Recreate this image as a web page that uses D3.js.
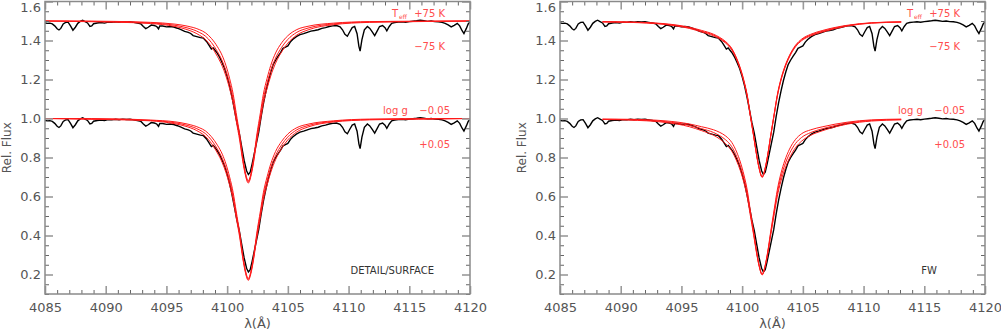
<!DOCTYPE html>
<html>
<head>
<meta charset="utf-8">
<script src="https://cdn.jsdelivr.net/npm/d3@7"></script>
<style>
  body { margin: 0; background: #fff; }
  svg { display: block; font-family: "DejaVu Sans", sans-serif; }
</style>
</head>
<body>
<div id="chart"></div>
<script>
// observed H-delta spectrum (normalised flux)
const obsWave = [4085.0, 4085.2, 4085.4, 4085.6, 4085.8, 4086.0, 4086.15, 4086.3, 4086.5, 4086.7, 4086.9, 4087.1, 4087.3, 4087.5, 4087.7, 4087.9, 4088.1, 4088.3, 4088.5, 4088.7, 4088.85, 4089.0, 4089.3, 4089.6, 4089.9, 4090.2, 4090.5, 4090.8, 4091.1, 4091.4, 4091.7, 4092.0, 4092.3, 4092.6, 4092.9, 4093.1, 4093.3, 4093.5, 4093.75, 4094.0, 4094.2, 4094.35, 4094.45, 4094.7, 4095.0, 4095.3, 4095.6, 4095.9, 4096.2, 4096.5, 4096.8, 4097.0, 4097.2, 4097.5, 4097.8, 4098.05, 4098.3, 4098.5, 4098.7, 4098.85, 4099.0, 4099.2, 4099.4, 4099.6, 4099.8, 4100.0, 4100.2, 4100.4, 4100.6, 4100.8, 4101.0, 4101.2, 4101.4, 4101.6, 4101.75, 4101.9, 4102.05, 4102.2, 4102.4, 4102.6, 4102.8, 4103.0, 4103.2, 4103.4, 4103.6, 4103.8, 4104.0, 4104.2, 4104.4, 4104.6, 4104.8, 4105.0, 4105.2, 4105.4, 4105.7, 4106.0, 4106.3, 4106.6, 4106.9, 4107.2, 4107.5, 4107.8, 4108.1, 4108.4, 4108.7, 4109.0, 4109.3, 4109.5, 4109.7, 4109.9, 4110.1, 4110.3, 4110.5, 4110.7, 4110.85, 4110.95, 4111.1, 4111.3, 4111.55, 4111.75, 4111.95, 4112.15, 4112.35, 4112.55, 4112.8, 4113.0, 4113.15, 4113.35, 4113.55, 4113.8, 4114.1, 4114.4, 4114.7, 4115.0, 4115.3, 4115.6, 4115.9, 4116.2, 4116.5, 4116.8, 4117.1, 4117.4, 4117.7, 4117.95, 4118.2, 4118.45, 4118.7, 4118.95, 4119.15, 4119.35, 4119.5, 4119.7, 4119.85, 4120.0];
const obsFlux = [0.990, 0.988, 0.989, 0.985, 0.975, 0.960, 0.954, 0.962, 0.985, 0.993, 0.994, 0.975, 0.953, 0.968, 0.988, 0.998, 1.004, 0.997, 0.990, 0.972, 0.975, 0.986, 0.990, 0.992, 0.989, 0.994, 0.993, 0.996, 0.994, 0.997, 0.995, 0.996, 0.993, 0.990, 0.985, 0.972, 0.961, 0.968, 0.979, 0.977, 0.972, 0.960, 0.975, 0.974, 0.970, 0.972, 0.969, 0.963, 0.956, 0.947, 0.942, 0.936, 0.925, 0.920, 0.915, 0.912, 0.895, 0.876, 0.856, 0.862, 0.850, 0.834, 0.812, 0.785, 0.755, 0.715, 0.668, 0.610, 0.545, 0.480, 0.425, 0.355, 0.285, 0.232, 0.213, 0.225, 0.265, 0.310, 0.370, 0.430, 0.510, 0.580, 0.640, 0.695, 0.740, 0.778, 0.800, 0.820, 0.838, 0.860, 0.866, 0.872, 0.892, 0.905, 0.920, 0.930, 0.935, 0.942, 0.948, 0.951, 0.955, 0.962, 0.966, 0.972, 0.975, 0.977, 0.970, 0.955, 0.932, 0.922, 0.945, 0.966, 0.972, 0.935, 0.870, 0.846, 0.905, 0.955, 0.972, 0.962, 0.944, 0.925, 0.948, 0.972, 0.977, 0.966, 0.950, 0.972, 0.988, 0.992, 0.994, 0.996, 0.994, 0.997, 0.999, 1.001, 1.004, 1.001, 0.998, 1.000, 0.997, 0.996, 0.993, 0.988, 0.980, 0.970, 0.978, 0.988, 0.975, 0.950, 0.936, 0.962, 0.985, 0.995];

// DETAIL/SURFACE model grid
const detWave = [4085.0, 4087.0, 4090.7, 4093.7, 4095.7, 4096.7, 4097.7, 4098.2, 4098.7, 4099.2, 4099.6, 4099.9, 4100.2, 4100.5, 4100.74, 4101.04, 4101.29, 4101.49, 4101.74, 4101.99, 4102.19, 4102.44, 4102.74, 4102.98, 4103.29, 4103.59, 4103.99, 4104.49, 4104.99, 4105.74, 4106.74, 4108.74, 4111.74, 4115.74, 4120.0];
const detBest = [1.000, 0.999, 0.996, 0.990, 0.978, 0.965, 0.942, 0.923, 0.890, 0.843, 0.795, 0.745, 0.680, 0.600, 0.510, 0.400, 0.290, 0.220, 0.175, 0.220, 0.290, 0.400, 0.510, 0.600, 0.680, 0.745, 0.810, 0.865, 0.905, 0.942, 0.965, 0.985, 0.995, 0.998, 1.000];
const detTeffHot = [1.000, 1.000, 0.998, 0.993, 0.984, 0.974, 0.956, 0.940, 0.911, 0.868, 0.822, 0.772, 0.706, 0.624, 0.530, 0.415, 0.300, 0.227, 0.181, 0.227, 0.300, 0.415, 0.530, 0.624, 0.706, 0.772, 0.836, 0.888, 0.924, 0.956, 0.974, 0.989, 0.997, 0.999, 1.000];
const detTeffCool = [1.000, 0.998, 0.994, 0.987, 0.972, 0.956, 0.928, 0.906, 0.869, 0.818, 0.768, 0.718, 0.654, 0.576, 0.490, 0.385, 0.280, 0.213, 0.169, 0.213, 0.280, 0.385, 0.490, 0.576, 0.654, 0.718, 0.784, 0.842, 0.886, 0.928, 0.956, 0.981, 0.993, 0.997, 1.000];
const detLoggLow = [1.000, 1.000, 0.998, 0.992, 0.983, 0.972, 0.953, 0.937, 0.907, 0.863, 0.817, 0.767, 0.701, 0.619, 0.526, 0.412, 0.298, 0.226, 0.180, 0.226, 0.298, 0.412, 0.526, 0.619, 0.701, 0.767, 0.831, 0.883, 0.920, 0.953, 0.972, 0.988, 0.997, 0.999, 1.000];
const detLoggHigh = [1.000, 0.998, 0.994, 0.988, 0.973, 0.958, 0.931, 0.909, 0.873, 0.823, 0.773, 0.723, 0.659, 0.581, 0.494, 0.388, 0.282, 0.214, 0.170, 0.214, 0.282, 0.388, 0.494, 0.581, 0.659, 0.723, 0.789, 0.847, 0.890, 0.931, 0.958, 0.982, 0.993, 0.997, 1.000];

// FW model grid
const fwWave = [4088.5, 4090.65, 4093.65, 4095.65, 4096.65, 4097.65, 4098.15, 4098.65, 4099.15, 4099.55, 4099.85, 4100.15, 4100.45, 4100.65, 4100.95, 4101.2, 4101.4, 4101.65, 4101.9, 4102.1, 4102.35, 4102.65, 4102.89, 4103.2, 4103.5, 4103.9, 4104.4, 4104.9, 4105.65, 4106.65, 4108.65, 4110.65, 4113.1];
const fwBest = [0.996, 0.994, 0.984, 0.965, 0.948, 0.928, 0.912, 0.890, 0.855, 0.805, 0.755, 0.690, 0.605, 0.525, 0.410, 0.310, 0.245, 0.200, 0.245, 0.310, 0.410, 0.525, 0.615, 0.700, 0.760, 0.820, 0.872, 0.903, 0.928, 0.948, 0.976, 0.990, 0.995];
const fwTeffHot = [0.997, 0.995, 0.986, 0.968, 0.952, 0.932, 0.916, 0.894, 0.859, 0.809, 0.759, 0.694, 0.609, 0.528, 0.412, 0.312, 0.247, 0.202, 0.247, 0.312, 0.412, 0.528, 0.619, 0.704, 0.764, 0.824, 0.876, 0.907, 0.932, 0.952, 0.978, 0.991, 0.996];
const fwTeffCool = [0.995, 0.993, 0.982, 0.962, 0.944, 0.924, 0.908, 0.886, 0.851, 0.801, 0.751, 0.686, 0.601, 0.522, 0.408, 0.308, 0.243, 0.198, 0.243, 0.308, 0.408, 0.522, 0.611, 0.696, 0.756, 0.816, 0.868, 0.899, 0.924, 0.944, 0.974, 0.989, 0.994];
const fwLoggLow = [0.997, 0.996, 0.988, 0.972, 0.958, 0.942, 0.929, 0.910, 0.877, 0.828, 0.777, 0.710, 0.622, 0.538, 0.419, 0.315, 0.248, 0.202, 0.248, 0.315, 0.419, 0.538, 0.632, 0.720, 0.782, 0.843, 0.893, 0.922, 0.942, 0.958, 0.981, 0.993, 0.997];
const fwLoggHigh = [0.995, 0.992, 0.980, 0.958, 0.938, 0.914, 0.895, 0.870, 0.833, 0.782, 0.733, 0.670, 0.588, 0.512, 0.401, 0.305, 0.242, 0.198, 0.242, 0.305, 0.401, 0.512, 0.598, 0.680, 0.738, 0.797, 0.851, 0.884, 0.914, 0.938, 0.971, 0.987, 0.993];

const xTicks = [4085, 4090, 4095, 4100, 4105, 4110, 4115, 4120];
const yTicks = [0.2, 0.4, 0.6, 0.8, 1.0, 1.2, 1.4, 1.6];
const teffOffset = 0.5;   // upper spectrum shifted up

const W = 1001, H = 333;
const svg = d3.select("#chart").append("svg")
    .attr("width", W).attr("height", H);

const panels = [
    {left: 45, right: 470, label: "DETAIL/SURFACE", wave: detWave,
     teff: [detTeffHot, detBest, detTeffCool], logg: [detLoggLow, detBest, detLoggHigh]},
    {left: 560, right: 985, label: "FW", wave: fwWave,
     teff: [fwTeffHot, fwBest, fwTeffCool], logg: [fwLoggLow, fwBest, fwLoggHigh]}
];

const plotTop = 1.5, plotBottom = 294;
const red = "#ff1a1a", labRed = "#ff4d4d";

panels.forEach((p, pi) => {
    const x = d3.scaleLinear().domain([4085, 4120]).range([p.left, p.right]);
    const y = d3.scaleLinear().domain([0.1, 1.6]).range([plotBottom, plotTop]);
    const g = svg.append("g");

    const clipId = "clip" + pi;
    svg.append("clipPath").attr("id", clipId)
        .append("rect").attr("x", p.left).attr("y", plotTop)
        .attr("width", p.right - p.left).attr("height", plotBottom - plotTop);

    const plot = g.append("g").attr("clip-path", `url(#${clipId})`);

    const line = (wave, off) => d3.line()
        .x((d, i) => x(wave[i]))
        .y(d => y(d + off));

    // observed spectrum, both offsets
    [teffOffset, 0].forEach(off => {
        plot.append("path")
            .attr("d", line(obsWave, off).curve(d3.curveLinear)(obsFlux))
            .attr("fill", "none").attr("stroke", "#000").attr("stroke-width", 1.4);
    });

    // model profiles
    const models = [{set: p.teff, off: teffOffset}, {set: p.logg, off: 0}];
    models.forEach(m => {
        m.set.forEach(arr => {
            plot.append("path")
                .attr("d", line(p.wave, m.off).curve(d3.curveMonotoneX)(arr))
                .attr("fill", "none").attr("stroke", red).attr("stroke-width", 1);
        });
    });

    // axes (ticks inward on all sides)
    const minorX = d3.range(4085, 4121, 1).filter(v => v % 5 !== 0);
    const minorY = d3.range(0.1, 1.6, 0.05).map(v => +v.toFixed(2))
        .filter(v => Math.abs(v * 5 - Math.round(v * 5)) > 1e-6);

    const axStyle = (sel, col, w) => {
        sel.select(".domain").remove();
        sel.selectAll(".tick line").attr("stroke", col).attr("stroke-width", w);
        sel.selectAll("text").attr("fill", "#555").attr("font-size", 13)
            .attr("font-family", "DejaVu Sans, sans-serif");
    };

    const xb = g.append("g").attr("transform", `translate(0,${plotBottom})`)
        .call(d3.axisBottom(x).tickValues(xTicks).tickFormat(d3.format("d")).tickSize(-8).tickPadding(9));
    axStyle(xb, "#9a9a9a", 1.6);
    g.append("g").attr("transform", `translate(0,${plotBottom})`)
        .call(d3.axisBottom(x).tickValues(minorX).tickFormat("").tickSize(-4))
        .call(s => axStyle(s, "#666", 1));
    g.append("g").attr("transform", `translate(0,${plotTop})`)
        .call(d3.axisTop(x).tickValues(xTicks).tickFormat("").tickSize(-8))
        .call(s => axStyle(s, "#9a9a9a", 1.6));
    g.append("g").attr("transform", `translate(0,${plotTop})`)
        .call(d3.axisTop(x).tickValues(minorX).tickFormat("").tickSize(-4))
        .call(s => axStyle(s, "#666", 1));

    const yl = g.append("g").attr("transform", `translate(${p.left},0)`)
        .call(d3.axisLeft(y).tickValues(yTicks).tickFormat(d3.format(".1f")).tickSize(-8).tickPadding(4));
    axStyle(yl, "#9a9a9a", 1.6);
    // top label sits just inside the picture edge
    yl.selectAll(".tick text").filter(d => d === 1.6).attr("y", 0).attr("dy", "9.5px");
    g.append("g").attr("transform", `translate(${p.left},0)`)
        .call(d3.axisLeft(y).tickValues(minorY).tickFormat("").tickSize(-4))
        .call(s => axStyle(s, "#666", 1));
    g.append("g").attr("transform", `translate(${p.right},0)`)
        .call(d3.axisRight(y).tickValues(yTicks).tickFormat("").tickSize(-8))
        .call(s => axStyle(s, "#9a9a9a", 1.6));
    g.append("g").attr("transform", `translate(${p.right},0)`)
        .call(d3.axisRight(y).tickValues(minorY).tickFormat("").tickSize(-4))
        .call(s => axStyle(s, "#666", 1));

    // frame
    g.append("rect")
        .attr("x", p.left).attr("y", plotTop)
        .attr("width", p.right - p.left).attr("height", plotBottom - plotTop)
        .attr("fill", "none").attr("stroke", "#8a8a8a").attr("stroke-width", 1.5);

    // axis titles
    g.append("text")
        .attr("x", (p.left + p.right) / 2).attr("y", 328)
        .attr("text-anchor", "middle").attr("font-size", 13).attr("fill", "#555")
        .text("λ(Å)");
    g.append("text")
        .attr("transform", `translate(${p.left - 34},${(plotTop + plotBottom) / 2}) rotate(-90)`)
        .attr("text-anchor", "middle").attr("font-size", 12).attr("fill", "#555")
        .text("Rel. Flux");

    // red annotations
    const ex = p.right - 25;   // right edge of value labels
    const lab = (tx, ty, s, anchor, fs) => g.append("text")
        .attr("x", tx).attr("y", ty).attr("text-anchor", anchor || "end")
        .attr("font-size", fs || 10).attr("fill", labRed).text(s);
    lab(ex, 17, "+75 K");
    lab(ex - 53, 17, "T", "start");
    lab(ex - 46, 19, "eff", "start", 6);
    lab(ex, 50, "\u221275 K");
    lab(ex + 5, 114, "\u22120.05");
    lab(ex - 62, 114, "log g", "start");
    lab(ex + 5, 148, "+0.05");

    g.append("text")
        .attr("x", pi === 0 ? 434 : 937).attr("y", 274)
        .attr("text-anchor", "end").attr("font-size", 10).attr("fill", "#333")
        .text(p.label);
});
</script>
</body>
</html>
